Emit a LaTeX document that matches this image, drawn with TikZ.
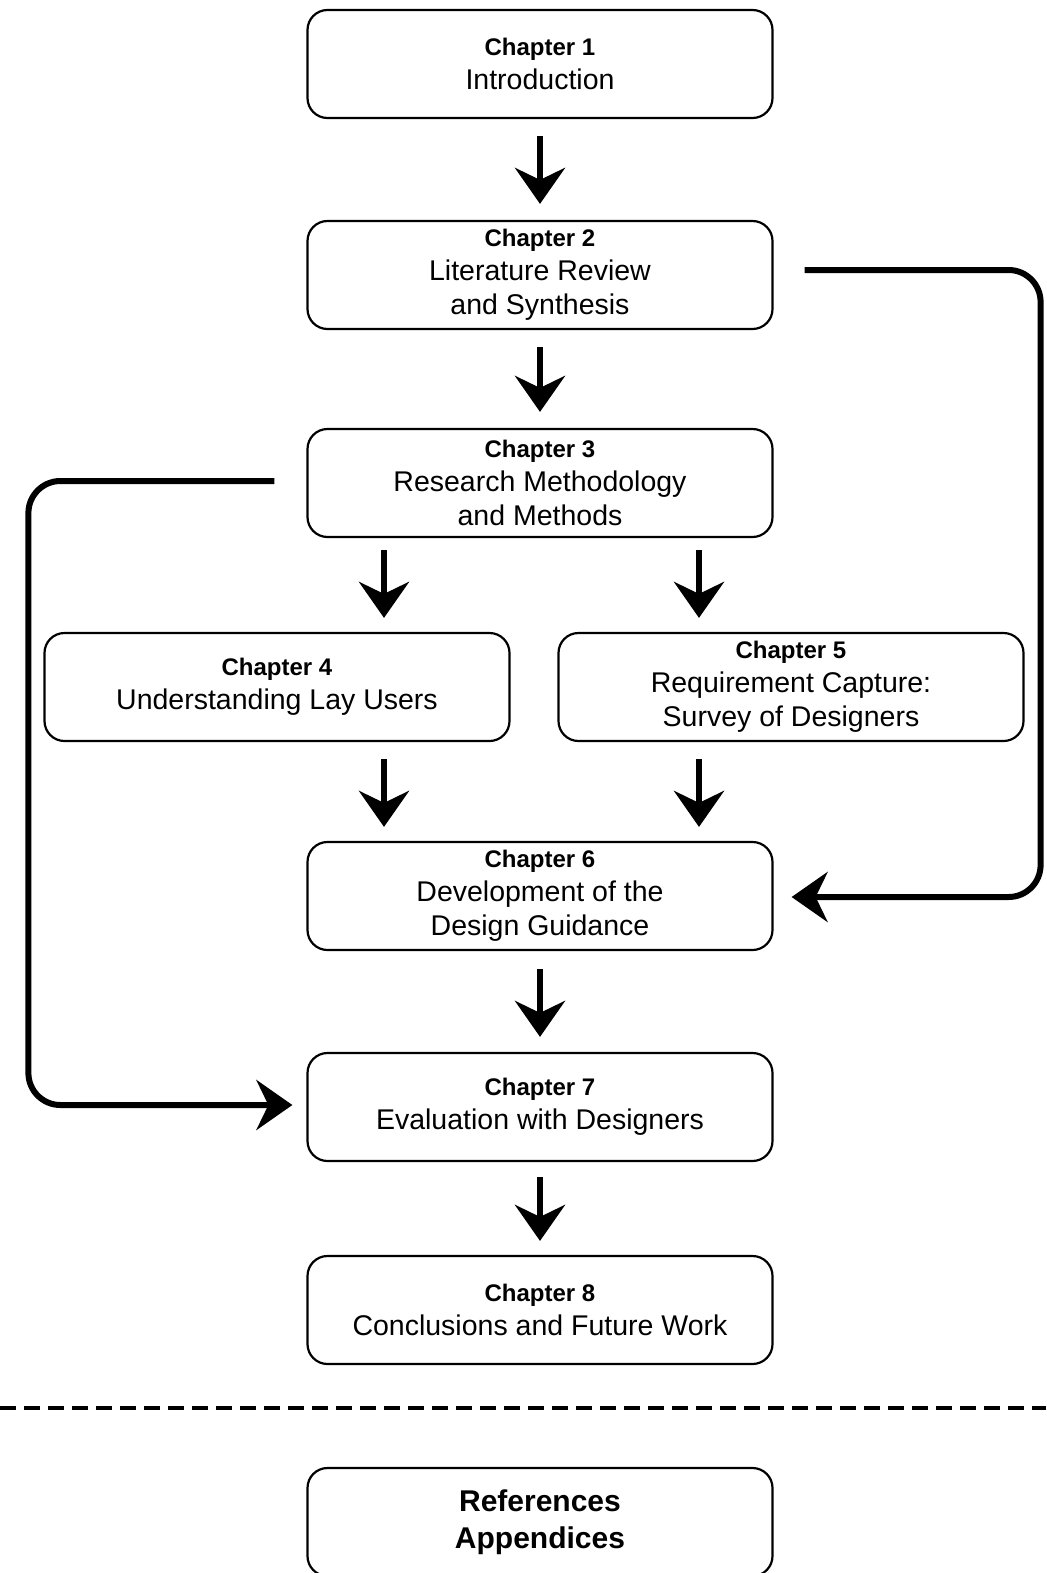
\documentclass[tikz,border=0pt]{standalone}
\usepackage{fontspec}
\setmainfont{Liberation Sans}
\usetikzlibrary{arrows.meta,calc}
\begin{document}
\begin{tikzpicture}[x=1pt,y=-1pt,
  chapbox/.style={draw,line width=2.2pt,rounded corners=20pt,minimum width=465pt,minimum height=108pt,align=center,inner sep=0pt,font=\fontsize{28.5}{34}\selectfont},
  bigarrow/.style={line width=6pt,-{Stealth[length=36pt,width=50pt,inset=12pt]}},
  link/.style={line width=6pt,rounded corners=32pt,-{Stealth[length=36pt,width=50pt,inset=12pt]}}]
\useasboundingbox (0,0) rectangle (1046,1573);
\newcommand{\chp}[1]{{\fontsize{24}{34}\selectfont\bfseries #1}}
\node[chapbox] (b1) at (540,64) {\chp{Chapter 1}\\Introduction};
\node[chapbox] (b2) at (540,275) {\chp{Chapter 2}\\Literature Review\\and Synthesis};
\node[chapbox] (b3) at (540,483) {\chp{Chapter 3}\\Research Methodology\\and Methods};
\node[chapbox] (b4) at (277,687) {\chp{Chapter 4}\\Understanding Lay Users};
\node[chapbox] (b5) at (791,687) {\chp{Chapter 5}\\Requirement Capture:\\Survey of Designers};
\node[chapbox] (b6) at (540,896) {\chp{Chapter 6}\\Development of the\\Design Guidance};
\node[chapbox] (b7) at (540,1107) {\chp{Chapter 7}\\Evaluation with Designers};
\node[chapbox] (b8) at (540,1310) {\chp{Chapter 8}\\Conclusions and Future Work};
\node[chapbox,font=\bfseries\fontsize{30}{37}\selectfont] (b9) at (540,1522) {References\\Appendices};
\coordinate (c4) at (384,0);
\coordinate (c5) at (699,0);
\draw[bigarrow,shorten <=17pt,shorten >=16pt] (b1.south) -- (b2.north);
\draw[bigarrow,shorten <=17pt,shorten >=16pt] (b2.south) -- (b3.north);
\draw[bigarrow,shorten <=12pt,shorten >=14pt] (b3.south -| c4) -- (b4.north -| c4);
\draw[bigarrow,shorten <=12pt,shorten >=14pt] (b3.south -| c5) -- (b5.north -| c5);
\draw[bigarrow,shorten <=17pt,shorten >=14pt] (b4.south -| c4) -- (b6.north -| c4);
\draw[bigarrow,shorten <=17pt,shorten >=14pt] (b5.south -| c5) -- (b6.north -| c5);
\draw[bigarrow,shorten <=18pt,shorten >=15pt] (b6.south) -- (b7.north);
\draw[bigarrow,shorten <=15pt,shorten >=14pt] (b7.south) -- (b8.north);
\draw[link] ([xshift=31pt,yshift=5pt]b2.east) -- ++(236,0) |- ([xshift=18pt,yshift=-1pt]b6.east);
\draw[link] ([xshift=-32pt,yshift=2pt]b3.west) -- ++(-246,0) |- ([xshift=-14pt,yshift=2pt]b7.west);
\draw[line width=4pt,dash pattern=on 16pt off 8pt] (0,1408) -- (1046,1408);
\end{tikzpicture}
\end{document}
